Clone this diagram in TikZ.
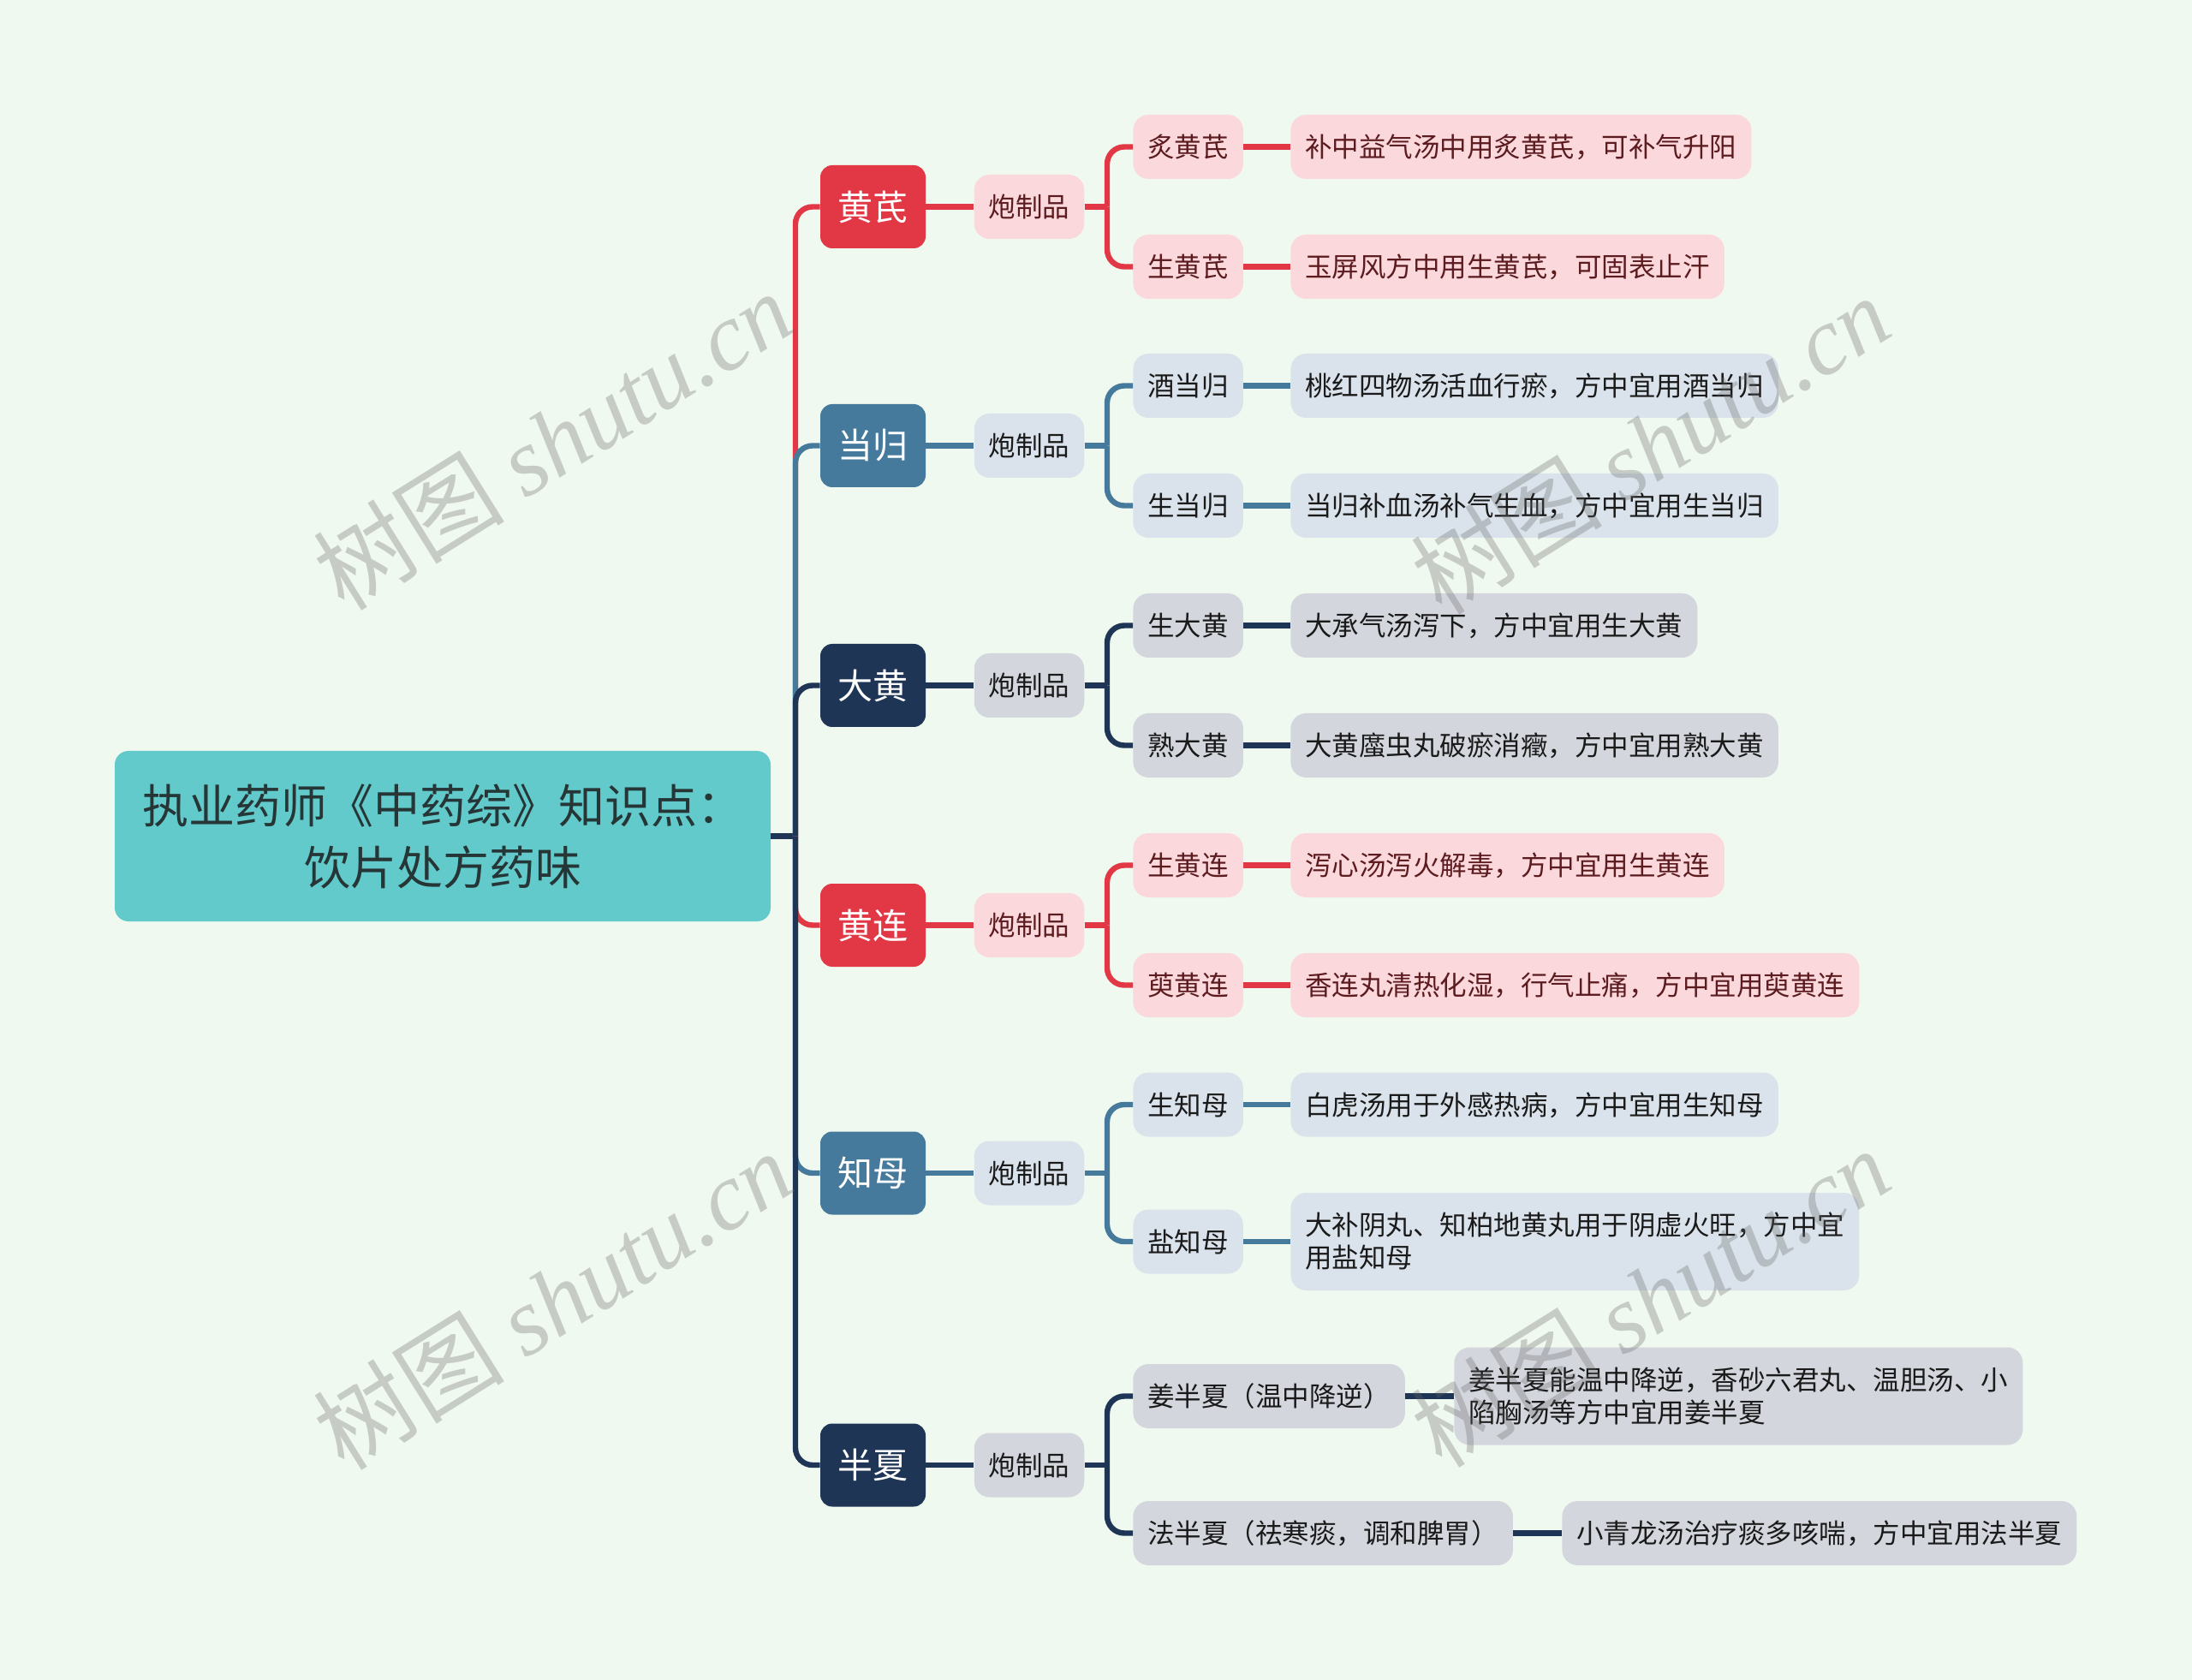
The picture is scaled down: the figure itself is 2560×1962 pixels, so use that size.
\documentclass[tikz,border=0pt]{standalone}
\usepackage{fontspec}
\setmainfont{Noto Sans CJK SC}
\newfontfamily\wmserif{Liberation Serif}
\usetikzlibrary{positioning}
\definecolor{bgc}{HTML}{F0F9EF}
\definecolor{rootc}{HTML}{63CACC}
\definecolor{roottxt}{HTML}{263535}
\definecolor{redc}{HTML}{E23744}
\definecolor{bluec}{HTML}{457A9C}
\definecolor{navyc}{HTML}{1E3556}
\definecolor{pinkf}{HTML}{FAD8DC}
\definecolor{bluef}{HTML}{DAE3EB}
\definecolor{grayf}{HTML}{D3D6DD}
\definecolor{pinktxt}{HTML}{5C1B1F}
\definecolor{darktxt}{HTML}{1A1A1A}

\begin{document}
\begin{tikzpicture}[x=0.5pt,y=-0.5pt,
  root/.style={fill=rootc,rounded corners=8pt,text=roottxt,align=center,
    font=\fontsize{27}{36}\selectfont,minimum width=383pt,minimum height=99.5pt,inner sep=0pt},
  main/.style={rounded corners=7pt,text=white,font=\fontsize{20.5}{24}\selectfont,
    minimum width=61.5pt,minimum height=48.5pt,inner sep=0pt},
  boxbase/.style={rounded corners=9pt,font=\fontsize{15.75}{19}\selectfont,
    minimum height=37.5pt,inner xsep=8.5pt,inner ysep=0pt},
  sub/.style={boxbase,text height=13.4pt,text depth=1.4pt},
  multi/.style={boxbase,align=left,minimum height=57pt},
  pinkbox/.style={fill=pinkf,text=pinktxt},
  bluebox/.style={fill=bluef,text=darktxt},
  graybox/.style={fill=grayf,text=darktxt},
  ln/.style={line width=3.2pt},
  redln/.style={ln,draw=redc},
  blueln/.style={ln,draw=bluec},
  navyln/.style={ln,draw=navyc},
  wm/.style={text=black!60,opacity=0.3,font=\fontsize{56}{60}\selectfont},
]
\fill[bgc] (0,0) rectangle (2560,1962);
\useasboundingbox (0,0) rectangle (2560,1962);

% root
\node[root] (root) at (517,976.5) {执业药师《中药综》知识点：\\饮片处方药味};
\coordinate (sp) at (929,976.5);
\draw[navyln] (root.east) -- (sp);

% first level
\node[main,fill=redc] (hq) at (1019.5,241.5) {黄芪};
\node[main,fill=bluec] (dg) at (1019.5,520.5) {当归};
\node[main,fill=navyc] (dh) at (1019.5,800.5) {大黄};
\node[main,fill=redc] (hl) at (1019.5,1080.5) {黄连};
\node[main,fill=bluec] (zm) at (1019.5,1370) {知母};
\node[main,fill=navyc] (bx) at (1019.5,1711) {半夏};

\draw[redln,rounded corners=10pt] (sp) |- (hq.west);
\draw[blueln,rounded corners=10pt] (sp) |- (dg.west);
\draw[navyln,rounded corners=10pt] (sp) |- (dh.west);
\draw[redln,rounded corners=10pt] (sp) |- (hl.west);
\draw[blueln,rounded corners=10pt] (sp) |- (zm.west);
\draw[navyln,rounded corners=10pt] (sp) |- (bx.west);

% 黄芪
\node[sub,pinkbox] (hqp) at (1202,241.5) {炮制品};
\node[sub,pinkbox,anchor=west] (hq1) at (1323,171.5) {炙黄芪};
\node[sub,pinkbox,anchor=west] (hq2) at (1323,311.5) {生黄芪};
\node[sub,pinkbox,anchor=west] (hq1d) at (1507,171.5) {补中益气汤中用炙黄芪，可补气升阳};
\node[sub,pinkbox,anchor=west] (hq2d) at (1507,311.5) {玉屏风方中用生黄芪，可固表止汗};
\draw[redln] (hq.east) -- (hqp.west);
\draw[redln] (hqp.east) -- (1293,241.5) coordinate (hqj);
\draw[redln,rounded corners=10pt] (hqj) |- (hq1.west);
\draw[redln,rounded corners=10pt] (hqj) |- (hq2.west);
\draw[redln] (hq1.east) -- (hq1d.west);
\draw[redln] (hq2.east) -- (hq2d.west);

% 当归
\node[sub,bluebox] (dgp) at (1202,520.5) {炮制品};
\node[sub,bluebox,anchor=west] (dg1) at (1323,450.5) {酒当归};
\node[sub,bluebox,anchor=west] (dg2) at (1323,590.5) {生当归};
\node[sub,bluebox,anchor=west] (dg1d) at (1507,450.5) {桃红四物汤活血行瘀，方中宜用酒当归};
\node[sub,bluebox,anchor=west] (dg2d) at (1507,590.5) {当归补血汤补气生血，方中宜用生当归};
\draw[blueln] (dg.east) -- (dgp.west);
\draw[blueln] (dgp.east) -- (1293,520.5) coordinate (dgj);
\draw[blueln,rounded corners=10pt] (dgj) |- (dg1.west);
\draw[blueln,rounded corners=10pt] (dgj) |- (dg2.west);
\draw[blueln] (dg1.east) -- (dg1d.west);
\draw[blueln] (dg2.east) -- (dg2d.west);

% 大黄
\node[sub,graybox] (dhp) at (1202,800.5) {炮制品};
\node[sub,graybox,anchor=west] (dh1) at (1323,730.5) {生大黄};
\node[sub,graybox,anchor=west] (dh2) at (1323,870.5) {熟大黄};
\node[sub,graybox,anchor=west] (dh1d) at (1507,730.5) {大承气汤泻下，方中宜用生大黄};
\node[sub,graybox,anchor=west] (dh2d) at (1507,870.5) {大黄䗪虫丸破瘀消癥，方中宜用熟大黄};
\draw[navyln] (dh.east) -- (dhp.west);
\draw[navyln] (dhp.east) -- (1293,800.5) coordinate (dhj);
\draw[navyln,rounded corners=10pt] (dhj) |- (dh1.west);
\draw[navyln,rounded corners=10pt] (dhj) |- (dh2.west);
\draw[navyln] (dh1.east) -- (dh1d.west);
\draw[navyln] (dh2.east) -- (dh2d.west);

% 黄连
\node[sub,pinkbox] (hlp) at (1202,1080.5) {炮制品};
\node[sub,pinkbox,anchor=west] (hl1) at (1323,1010.5) {生黄连};
\node[sub,pinkbox,anchor=west] (hl2) at (1323,1150.5) {萸黄连};
\node[sub,pinkbox,anchor=west] (hl1d) at (1507,1010.5) {泻心汤泻火解毒，方中宜用生黄连};
\node[sub,pinkbox,anchor=west] (hl2d) at (1507,1150.5) {香连丸清热化湿，行气止痛，方中宜用萸黄连};
\draw[redln] (hl.east) -- (hlp.west);
\draw[redln] (hlp.east) -- (1293,1080.5) coordinate (hlj);
\draw[redln,rounded corners=10pt] (hlj) |- (hl1.west);
\draw[redln,rounded corners=10pt] (hlj) |- (hl2.west);
\draw[redln] (hl1.east) -- (hl1d.west);
\draw[redln] (hl2.east) -- (hl2d.west);

% 知母
\node[sub,bluebox] (zmp) at (1202,1370) {炮制品};
\node[sub,bluebox,anchor=west] (zm1) at (1323,1290) {生知母};
\node[sub,bluebox,anchor=west] (zm2) at (1323,1450) {盐知母};
\node[sub,bluebox,anchor=west] (zm1d) at (1507,1290) {白虎汤用于外感热病，方中宜用生知母};
\node[multi,bluebox,anchor=west] (zm2d) at (1507,1450) {大补阴丸、知柏地黄丸用于阴虚火旺，方中宜\\用盐知母};
\draw[blueln] (zm.east) -- (zmp.west);
\draw[blueln] (zmp.east) -- (1293,1370) coordinate (zmj);
\draw[blueln,rounded corners=10pt] (zmj) |- (zm1.west);
\draw[blueln,rounded corners=10pt] (zmj) |- (zm2.west);
\draw[blueln] (zm1.east) -- (zm1d.west);
\draw[blueln] (zm2.east) -- (zm2d.west);

% 半夏
\node[sub,graybox] (bxp) at (1202,1711) {炮制品};
\node[sub,graybox,anchor=west] (bx1) at (1323,1630.5) {姜半夏（温中降逆）};
\node[sub,graybox,anchor=west] (bx2) at (1323,1790.5) {法半夏（祛寒痰，调和脾胃）};
\node[multi,graybox,anchor=west] (bx1d) at (1698,1630.5) {姜半夏能温中降逆，香砂六君丸、温胆汤、小\\陷胸汤等方中宜用姜半夏};
\node[sub,graybox,anchor=west] (bx2d) at (1824,1790.5) {小青龙汤治疗痰多咳喘，方中宜用法半夏};
\draw[navyln] (bx.east) -- (bxp.west);
\draw[navyln] (bxp.east) -- (1293,1711) coordinate (bxj);
\draw[navyln,rounded corners=10pt] (bxj) |- (bx1.west);
\draw[navyln,rounded corners=10pt] (bxj) |- (bx2.west);
\draw[navyln] (bx1.east) -- (bx1d.west);
\draw[navyln] (bx2.east) -- (bx2d.west);

% watermark
\node[wm,rotate=32] (wm1) at (645,514) {树图 {\wmserif\itshape shutu.cn}};
\node[wm,rotate=32] (wm2) at (1927,519) {树图 {\wmserif\itshape shutu.cn}};
\node[wm,rotate=32] (wm3) at (645,1518) {树图 {\wmserif\itshape shutu.cn}};
\node[wm,rotate=32] (wm4) at (1927,1515) {树图 {\wmserif\itshape shutu.cn}};
\end{tikzpicture}
\end{document}
